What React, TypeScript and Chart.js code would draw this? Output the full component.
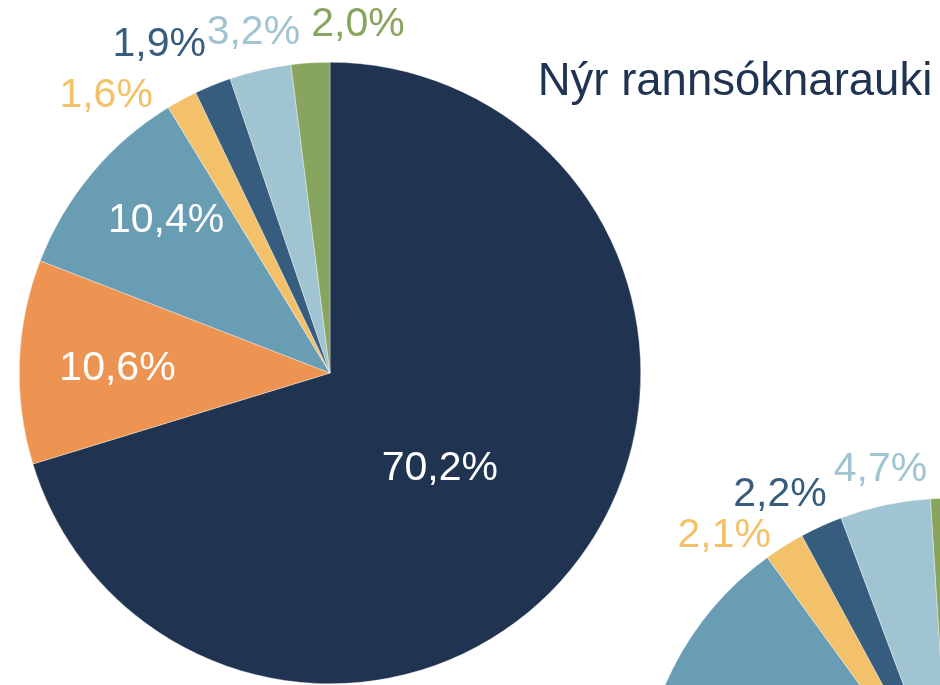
import React, { useEffect, useRef } from "react";
import { Chart, registerables } from "chart.js";

Chart.register(...registerables);

// ---------- data ----------
const categories = ["Flokkur 1", "Flokkur 2", "Flokkur 3", "Flokkur 4", "Flokkur 5", "Flokkur 6", "Flokkur 7"];
const mainValues = [70.2, 10.6, 10.4, 1.6, 1.9, 3.2, 2.0];
const secondValues = [64.0, 11.0, 15.0, 2.1, 2.2, 4.7, 1.0];
const titleText = "Nýr rannsóknarauki";

// ---------- styles ----------
const sliceColors = ["#203452", "#EE9452", "#699DB4", "#F3C169", "#365C7E", "#A0C4D2", "#88A55F"];
const FONT = "'Liberation Sans', Arial, sans-serif";

// label placement per slice: [radius factor of outer radius, angle shift in degrees]
const mainLabelPlacement: [number, number][] = [
  [0.469, 4.6],
  [0.684, -0.8],
  [0.719, 2.9],
  [1.148, -10.4],
  [1.192, -5.3],
  [1.124, 0.3],
  [1.123, 8.2],
];
const secondLabelPlacement: [number, number][] = [
  [0.47, 0],
  [0.68, 0],
  [0.72, 0],
  [1.142, -7.3],
  [1.151, -3.9],
  [1.116, 0.5],
  [1.12, 8],
];

const fmt = (v: number) => v.toFixed(1).replace(".", ",") + "%";

function makeLabelPlugin(values: number[], placement: [number, number][], title?: string) {
  return {
    id: "sliceLabels",
    afterDatasetsDraw(chart: any) {
      const ctx = chart.ctx as CanvasRenderingContext2D;
      const meta = chart.getDatasetMeta(0);
      ctx.save();
      ctx.font = `41px ${FONT}`;
      ctx.textAlign = "center";
      ctx.textBaseline = "middle";
      meta.data.forEach((arc: any, i: number) => {
        const p = arc.getProps(["x", "y", "startAngle", "endAngle", "outerRadius"], true);
        const [factor, shift] = placement[i];
        const mid = (p.startAngle + p.endAngle) / 2 + (shift * Math.PI) / 180;
        const d = p.outerRadius * factor;
        ctx.fillStyle = factor < 1 ? "#ffffff" : sliceColors[i];
        ctx.fillText(fmt(values[i]), p.x + Math.cos(mid) * d, p.y + Math.sin(mid) * d);
      });
      if (title) {
        ctx.font = `45.5px ${FONT}`;
        ctx.fillStyle = "#203452";
        ctx.textAlign = "center";
        ctx.textBaseline = "alphabetic";
        ctx.fillText(title, 735, 95);
      }
      ctx.restore();
    },
  };
}

function makeConfig(values: number[], padding: any, plugin: any): any {
  return {
    type: "pie",
    data: {
      labels: categories,
      datasets: [
        {
          data: values,
          backgroundColor: sliceColors,
          borderColor: "rgba(255,255,255,0.7)",
          borderWidth: 0.5,
        },
      ],
    },
    options: {
      responsive: false,
      animation: false,
      layout: { padding },
      plugins: {
        legend: { display: false },
        tooltip: { enabled: false },
        title: { display: false },
      },
    },
    plugins: [plugin],
  };
}

export default function App() {
  const ref1 = useRef<HTMLCanvasElement>(null);
  const ref2 = useRef<HTMLCanvasElement>(null);

  useEffect(() => {
    const c1 = new Chart(
      ref1.current!,
      makeConfig(
        mainValues,
        { left: 19, top: 62, right: 299, bottom: 1 },
        makeLabelPlugin(mainValues, mainLabelPlacement, titleText)
      )
    );
    const c2 = new Chart(
      ref2.current!,
      makeConfig(
        secondValues,
        { left: 639, top: 498, right: 39, bottom: 30 },
        makeLabelPlugin(secondValues, secondLabelPlacement)
      )
    );
    return () => {
      c1.destroy();
      c2.destroy();
    };
  }, []);

  return (
    <div
      style={{
        position: "fixed",
        left: 0,
        top: 0,
        width: 940,
        height: 685,
        overflow: "hidden",
        background: "#ffffff",
      }}
    >
      <canvas
        ref={ref1}
        width={940}
        height={685}
        style={{ position: "absolute", left: 0, top: 0, width: 940, height: 685 }}
      />
      <canvas
        ref={ref2}
        width={1300}
        height={1150}
        style={{ position: "absolute", left: 0, top: 0, width: 1300, height: 1150 }}
      />
    </div>
  );
}
